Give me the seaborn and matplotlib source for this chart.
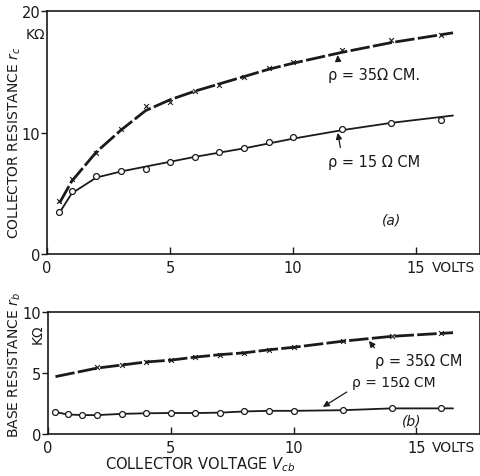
import numpy as np
import pandas as pd
import matplotlib
matplotlib.use("Agg")
import matplotlib.pyplot as plt
import seaborn as sns

sns.set_style("ticks")
plt.rcParams["font.family"] = ["DejaVu Sans"]
plt.rcParams["mathtext.fontset"] = "dejavusans"

# (a) collector resistance, kOhm - measured points
rc35_x = [0.5, 1, 2, 3, 4, 5, 6, 7, 8, 9, 10, 12, 14, 16]
rc35_y = [4.4, 6.2, 8.3, 10.3, 12.2, 12.5, 13.4, 13.9, 14.6, 15.3, 15.8, 16.8, 17.6, 18.0]
rc15_x = [0.5, 1, 2, 3, 4, 5, 6, 7, 8, 9, 10, 12, 14, 16]
rc15_y = [3.5, 5.2, 6.4, 6.8, 7.0, 7.6, 8.0, 8.4, 8.7, 9.2, 9.6, 10.3, 10.8, 11.0]

# (a) drawn curves
rc35_cx = [0.5, 1, 2, 3, 4, 5, 6, 7, 8, 9, 10, 12, 14, 16.5]
rc35_cy = [4.2, 6.0, 8.4, 10.2, 11.8, 12.7, 13.4, 14.0, 14.6, 15.2, 15.7, 16.6, 17.4, 18.2]
rc15_cx = [0.5, 1, 2, 3, 4, 5, 6, 7, 8, 9, 10, 12, 14, 16.5]
rc15_cy = [3.4, 5.0, 6.3, 6.8, 7.2, 7.6, 8.0, 8.35, 8.7, 9.1, 9.5, 10.2, 10.8, 11.4]

# (b) base resistance, kOhm
rb35_x = [2, 3, 4, 5, 6, 7, 8, 9, 10, 12, 14, 16]
rb35_y = [5.5, 5.65, 5.9, 6.05, 6.3, 6.5, 6.6, 6.9, 7.1, 7.6, 8.0, 8.3]
rb35_cx = [0.3, 2, 3, 4, 5, 6, 7, 8, 9, 10, 12, 14, 16.5]
rb35_cy = [4.7, 5.4, 5.65, 5.9, 6.05, 6.3, 6.5, 6.65, 6.9, 7.1, 7.6, 8.0, 8.3]
rb15_x = [0.3, 0.8, 1.4, 2, 3, 4, 5, 6, 7, 8, 9, 10, 12, 14, 16]
rb15_y = [1.8, 1.6, 1.55, 1.55, 1.65, 1.7, 1.72, 1.72, 1.75, 1.85, 1.9, 1.9, 1.95, 2.1, 2.1]
rb15_cx = rb15_x + [16.5]
rb15_cy = rb15_y + [2.1]

fig = plt.figure(figsize=(4.81, 4.77), dpi=100)
ax1 = fig.add_axes([0.098, 0.465, 0.9, 0.51])
ax2 = fig.add_axes([0.100, 0.088, 0.898, 0.256])

ink = "#1a1a1a"
dash = (7, 1.2)


def draw(ax, cx, cy, mx, my, marker, dashed):
    sns.lineplot(x=cx, y=cy, ax=ax, color=ink, lw=2.0 if dashed else 1.3,
                 sort=False, estimator=None)
    if dashed:
        ax.lines[-1].set_dashes(dash)
    if marker == "o":
        sns.scatterplot(x=mx, y=my, ax=ax, marker="o", s=18, facecolor="white",
                        edgecolor=ink, linewidth=0.9, zorder=5)
    else:
        sns.scatterplot(x=mx, y=my, ax=ax, marker="x", s=12, color=ink,
                        linewidth=0.8, zorder=5)


draw(ax1, rc35_cx, rc35_cy, rc35_x, rc35_y, "x", True)
draw(ax1, rc15_cx, rc15_cy, rc15_x, rc15_y, "o", False)
draw(ax2, rb35_cx, rb35_cy, rb35_x, rb35_y, "x", True)
draw(ax2, rb15_cx, rb15_cy, rb15_x, rb15_y, "o", False)

for ax, top in [(ax1, 20), (ax2, 10)]:
    ax.set_xlim(0, 17.6)
    ax.set_ylim(0, top)
    ax.set_xticks([0, 5, 10, 15])
    ax.set_xticklabels(["0", "5", "10", "15"])
    ax.set_yticks([0, top / 2, top])
    ax.set_yticklabels(["0", str(int(top / 2)), str(top)])
    ax.tick_params(axis="x", direction="in", length=5, width=1, labelsize=10.5,
                   colors=ink, pad=4)
    ax.tick_params(axis="y", direction="out", length=4, width=1, labelsize=10.5,
                   colors=ink, pad=1)
    for sp in ax.spines.values():
        sp.set_linewidth(1.2)
        sp.set_color(ink)
    ax.annotate("VOLTS", xy=(15.65, 0), xycoords=("data", "axes fraction"),
                xytext=(0, -4), textcoords="offset points",
                ha="left", va="top", fontsize=10, color=ink)

fig.text(0.03, 0.70, "COLLECTOR RESISTANCE $r_c$", rotation=90,
         ha="center", va="center", fontsize=10, color=ink)
fig.text(0.073, 0.927, "KΩ", ha="center", va="center", fontsize=10, color=ink)

fig.text(0.03, 0.235, "BASE RESISTANCE $r_b$", rotation=90,
         ha="center", va="center", fontsize=10, color=ink)
fig.text(0.079, 0.30, "KΩ", rotation=90, ha="center", va="center",
         fontsize=10, color=ink)
fig.text(0.416, 0.026, "COLLECTOR VOLTAGE $V_{cb}$", ha="center", va="center",
         fontsize=10.5, color=ink)

arrow = dict(arrowstyle="-|>", color=ink, lw=0.9, mutation_scale=9)
ax1.annotate("ρ = 35Ω CM.", xy=(11.8, 16.6), xytext=(11.4, 14.8), fontsize=10.5,
             color=ink, ha="left", va="center",
             arrowprops=dict(arrow, relpos=(0.12, 1.0)))
ax1.annotate("ρ = 15 Ω CM", xy=(11.8, 10.2), xytext=(11.4, 7.65), fontsize=10.5,
             color=ink, ha="left", va="center",
             arrowprops=dict(arrow, relpos=(0.15, 1.0)))
ax1.text(14.0, 2.5, "(a)", fontsize=10, style="italic", color=ink, ha="center")

ax2.annotate("ρ = 35Ω CM", xy=(13.0, 7.8), xytext=(13.3, 6.0), fontsize=10.5,
             color=ink, ha="left", va="center",
             arrowprops=dict(arrow, relpos=(0.05, 1.0)))
ax2.annotate("ρ = 15Ω CM", xy=(11.1, 2.1), xytext=(12.4, 4.3), fontsize=10,
             color=ink, ha="left", va="center",
             arrowprops=dict(arrow, relpos=(0.0, 0.0)))
ax2.text(14.8, 0.8, "(b)", fontsize=10, style="italic", color=ink, ha="center")

fig.savefig("out.png", dpi=100)
